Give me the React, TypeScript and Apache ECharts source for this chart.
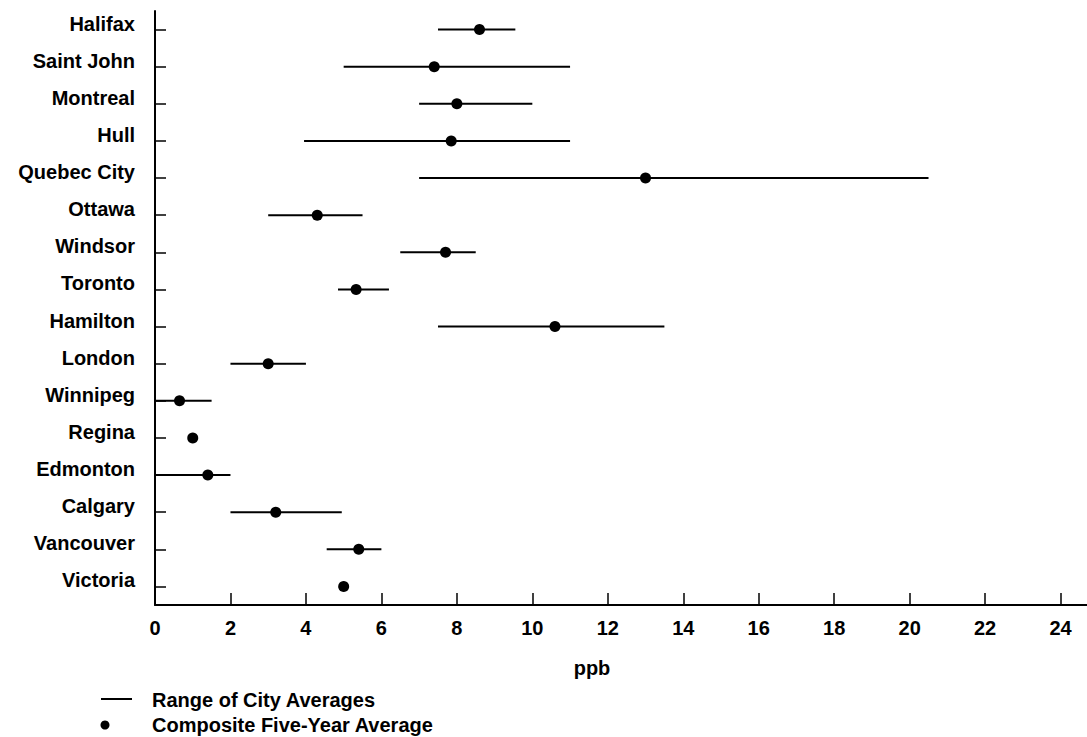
import React, { useEffect, useRef } from "react";
import * as echarts from "echarts";

const cities = [
  "Halifax", "Saint John", "Montreal", "Hull", "Quebec City", "Ottawa", "Windsor", "Toronto",
  "Hamilton", "London", "Winnipeg", "Regina", "Edmonton", "Calgary", "Vancouver", "Victoria",
];
const rangeLow: (number | null)[] = [7.5, 5.0, 7.0, 3.95, 7.0, 3.0, 6.5, 4.85, 7.5, 2.0, 0, null, 0, 2.0, 4.55, null];
const rangeHigh: (number | null)[] = [9.55, 11.0, 10.0, 11.0, 20.5, 5.5, 8.5, 6.2, 13.5, 4.0, 1.5, null, 2.0, 4.95, 6.0, null];
const composite = [8.6, 7.4, 8.0, 7.85, 13.0, 4.3, 7.7, 5.33, 10.6, 3.0, 0.65, 1.0, 1.4, 3.2, 5.4, 5.0];
const xTicks = [0, 2, 4, 6, 8, 10, 12, 14, 16, 18, 20, 22, 24];
const xName = "ppb";
const legendRange = "Range of City Averages";
const legendComposite = "Composite Five-Year Average";

const FONT = "'Liberation Sans', Arial, Helvetica, sans-serif";

export default function App() {
  const ref = useRef<HTMLDivElement>(null);
  useEffect(() => {
    if (!ref.current) return;
    const chart = echarts.init(ref.current, undefined, { renderer: "svg" });
    const rangeData = cities
      .map((c, i) => [i, rangeLow[i], rangeHigh[i]])
      .filter((d) => d[1] !== null && d[2] !== null);
    chart.setOption({
      animation: false,
      backgroundColor: "#ffffff",
      textStyle: { fontFamily: FONT },
      grid: { left: 155, right: 0, top: 11, bottom: 132, containLabel: false },
      xAxis: {
        type: "value",
        min: 0,
        max: 24.7,
        splitLine: { show: false },
        axisLine: { show: true, lineStyle: { color: "#000", width: 2 } },
        axisTick: { show: true, inside: true, length: 12, customValues: xTicks, lineStyle: { color: "#000", width: 1.5 } },
        axisLabel: {
          customValues: xTicks,
          color: "#000",
          fontSize: 20,
          fontWeight: "bold",
          fontFamily: FONT,
          margin: 13,
        },
      },
      yAxis: {
        type: "category",
        data: cities,
        inverse: true,
        boundaryGap: true,
        splitLine: { show: false },
        axisLine: { show: true, lineStyle: { color: "#000", width: 2 } },
        axisTick: { show: true, inside: true, alignWithLabel: true, length: 11, lineStyle: { color: "#000", width: 1.5 } },
        axisLabel: {
          color: "#000",
          fontSize: 20,
          fontWeight: "bold",
          fontFamily: FONT,
          margin: 20,
          verticalAlign: "bottom",
          lineHeight: 12,
        },
      },
      series: [
        {
          type: "custom",
          name: legendRange,
          data: rangeData,
          encode: { x: [1, 2], y: 0 },
          renderItem: (params: any, api: any) => {
            const idx = api.value(0);
            const p1 = api.coord([api.value(1), idx]);
            const p2 = api.coord([api.value(2), idx]);
            return {
              type: "line",
              shape: { x1: p1[0], y1: p1[1], x2: p2[0], y2: p2[1] },
              style: { stroke: "#000", lineWidth: 2 },
            };
          },
        },
        {
          type: "scatter",
          name: legendComposite,
          data: composite.map((v, i) => [v, i]),
          symbol: "circle",
          symbolSize: 11,
          itemStyle: { color: "#000", opacity: 1 },
          z: 3,
        },
      ],
      graphic: [
        {
          type: "text",
          x: 592,
          y: 668,
          style: { text: xName, font: `bold 20px ${FONT}`, fill: "#000", align: "center", verticalAlign: "middle" },
        },
        {
          type: "line",
          shape: { x1: 101, y1: 699, x2: 132, y2: 699 },
          style: { stroke: "#000", lineWidth: 2 },
        },
        {
          type: "text",
          x: 152,
          y: 700,
          style: { text: legendRange, font: `bold 20px ${FONT}`, fill: "#000", align: "left", verticalAlign: "middle" },
        },
        {
          type: "circle",
          shape: { cx: 105, cy: 725, r: 4.5 },
          style: { fill: "#000" },
        },
        {
          type: "text",
          x: 152,
          y: 725,
          style: { text: legendComposite, font: `bold 20px ${FONT}`, fill: "#000", align: "left", verticalAlign: "middle" },
        },
      ],
    });
    return () => chart.dispose();
  }, []);
  return <div ref={ref} style={{ position: "fixed", left: 0, top: 0, width: 1087, height: 737 }} />;
}
